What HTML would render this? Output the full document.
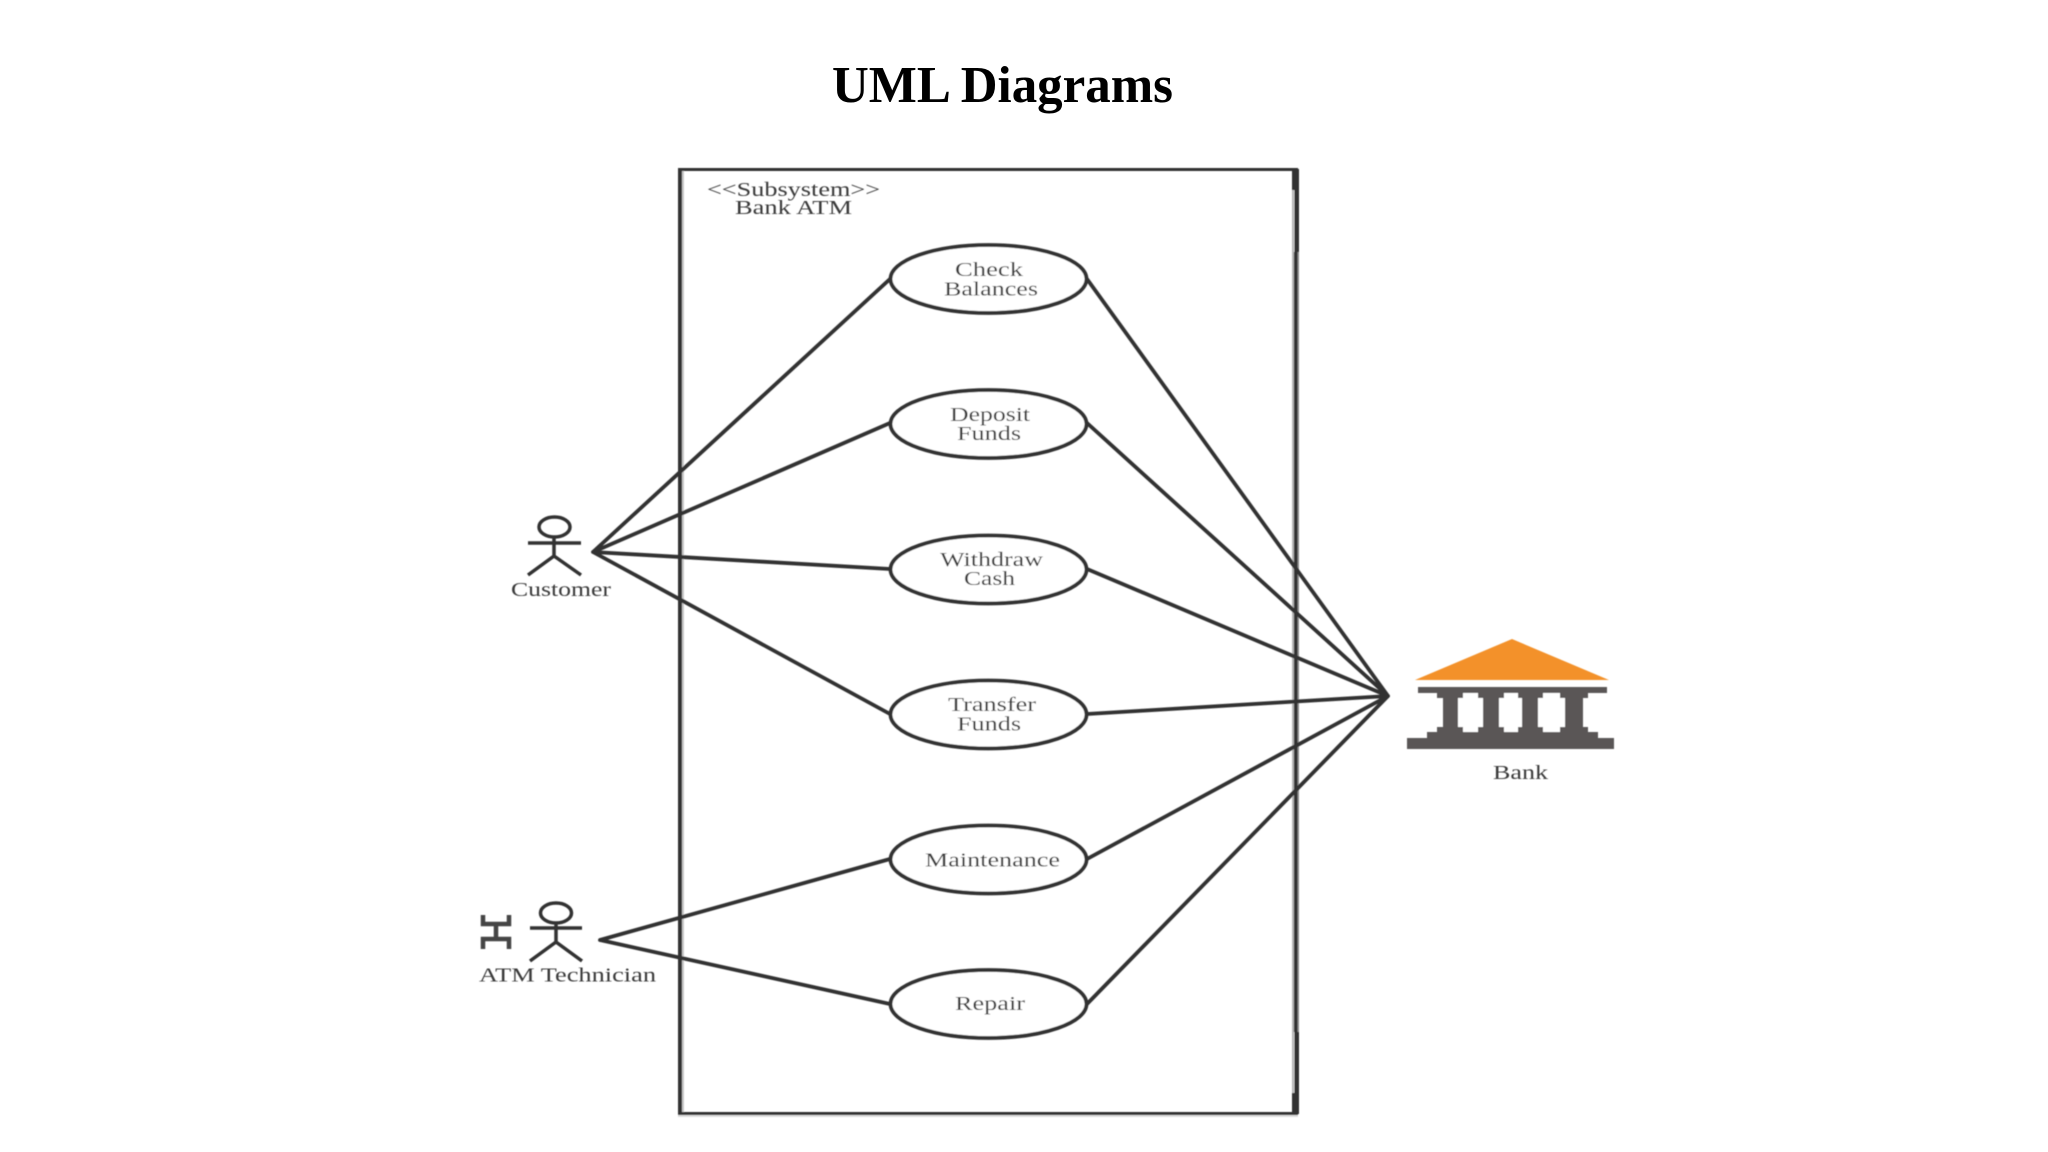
<!DOCTYPE html>
<html><head><meta charset="utf-8"><style>
html,body{margin:0;padding:0;background:#fff;width:2048px;height:1152px;overflow:hidden}
svg{display:block}
text{font-family:"Liberation Serif",serif;fill:#3a3a3a;font-size:20px}
</style></head><body>
<svg width="2048" height="1152" viewBox="0 0 2048 1152" xmlns="http://www.w3.org/2000/svg">
<defs><filter id="b" x="-5%" y="-5%" width="110%" height="110%"><feGaussianBlur stdDeviation="0.5"/></filter></defs>
<text x="832" y="102" textLength="341" lengthAdjust="spacingAndGlyphs" style="font-size:52px;font-weight:bold;fill:#000">UML Diagrams</text>
<g filter="url(#b)">
<g fill="#333">
<rect x="678" y="168" width="4.500" height="946"/>
<rect x="682" y="170" width="2" height="943" fill="#c8c8c8"/>
<rect x="678" y="168" width="620" height="3"/>
<rect x="678" y="1112" width="620" height="3"/>
<rect x="678" y="1115" width="620" height="2" fill="#dcdcdc"/>
<rect x="1292" y="169" width="2" height="945" fill="#b4b4b4"/>
<rect x="1297" y="252" width="2" height="780" fill="#8a8a8a"/>
<rect x="1294" y="252" width="3.500" height="780"/>
<rect x="1294.500" y="169" width="4.500" height="83"/>
<rect x="1294.500" y="1032" width="4.500" height="82"/>
<rect x="1292" y="169" width="7" height="21"/>
<rect x="1292" y="1093" width="7" height="21"/>
</g>
<g stroke="#333" fill="none">
<g stroke-width="3.800" stroke-linecap="round">
<path d="M593 552L890 279M593 552L890 423M593 552L890 569M593 552L890 714"/>
<path d="M600 940L890 859M600 940L890 1004"/>
<path d="M1388 696L1087 279M1388 696L1087 423M1388 696L1087 569M1388 696L1087 714M1388 696L1087 859M1388 696L1087 1004"/>
</g>
<g stroke-width="3.800" fill="#fff">
<ellipse cx="988.500" cy="279" rx="98" ry="34"/>
<ellipse cx="988.500" cy="424" rx="98" ry="34"/>
<ellipse cx="988.500" cy="569.500" rx="98" ry="34"/>
<ellipse cx="988.500" cy="714.500" rx="98" ry="34"/>
<ellipse cx="988.500" cy="859.500" rx="98" ry="34"/>
<ellipse cx="988.500" cy="1004" rx="98" ry="34"/>
</g>
<g stroke-width="3.500">
<ellipse cx="554.500" cy="527" rx="15.500" ry="10"/>
<path d="M554 537V556M528 543H581M528 575L554 556L581 575"/>
<ellipse cx="556" cy="913" rx="15.500" ry="10"/>
<path d="M556 923V942M530 928H582M530 961L556 942L582 961"/>
<path d="M483 915V924H509V915M483 949V939H509V949M496 924V939" stroke-width="4.500" stroke="#444"/>
</g>
</g>
<polygon points="1512,639 1415,680 1609,680" fill="#f39129"/>
<path fill="#5a5657" d="M1418 687H1607V693H1588V698H1583V727H1588V732H1598V738H1614V749H1407V738H1427V732H1437V727H1443V698H1437V693H1418Z"/>
<g fill="#fff">
<polygon points="1463,693 1478,693 1478,698 1483,698 1483,727 1478,727 1478,732 1463,732 1463,727 1458,727 1458,698 1463,698"/>
<polygon points="1504,693 1518,693 1518,698 1522,698 1522,727 1518,727 1518,732 1504,732 1504,727 1499,727 1499,698 1504,698"/>
<polygon points="1543,693 1560,693 1560,698 1565,698 1565,727 1560,727 1560,732 1543,732 1543,727 1538,727 1538,698 1543,698"/>
</g>
<text x="707" y="196" textLength="173" lengthAdjust="spacingAndGlyphs">&lt;&lt;Subsystem&gt;&gt;</text>
<text x="735" y="214" textLength="117" lengthAdjust="spacingAndGlyphs">Bank ATM</text>
<text x="955" y="276" textLength="68" lengthAdjust="spacingAndGlyphs">Check</text>
<text x="944" y="295.500" textLength="94" lengthAdjust="spacingAndGlyphs">Balances</text>
<text x="950" y="421" textLength="80" lengthAdjust="spacingAndGlyphs">Deposit</text>
<text x="957" y="440" textLength="64" lengthAdjust="spacingAndGlyphs">Funds</text>
<text x="940" y="566" textLength="103" lengthAdjust="spacingAndGlyphs">Withdraw</text>
<text x="964" y="585" textLength="51" lengthAdjust="spacingAndGlyphs">Cash</text>
<text x="948" y="711" textLength="88" lengthAdjust="spacingAndGlyphs">Transfer</text>
<text x="957" y="730.500" textLength="64" lengthAdjust="spacingAndGlyphs">Funds</text>
<text x="925" y="866.500" textLength="135" lengthAdjust="spacingAndGlyphs">Maintenance</text>
<text x="955" y="1010" textLength="70" lengthAdjust="spacingAndGlyphs">Repair</text>
<text x="511" y="596" textLength="100" lengthAdjust="spacingAndGlyphs">Customer</text>
<text x="479" y="981.500" textLength="177" lengthAdjust="spacingAndGlyphs">ATM Technician</text>
<text x="1493" y="779" textLength="55" lengthAdjust="spacingAndGlyphs">Bank</text>
</g>
</svg>
</body></html>
